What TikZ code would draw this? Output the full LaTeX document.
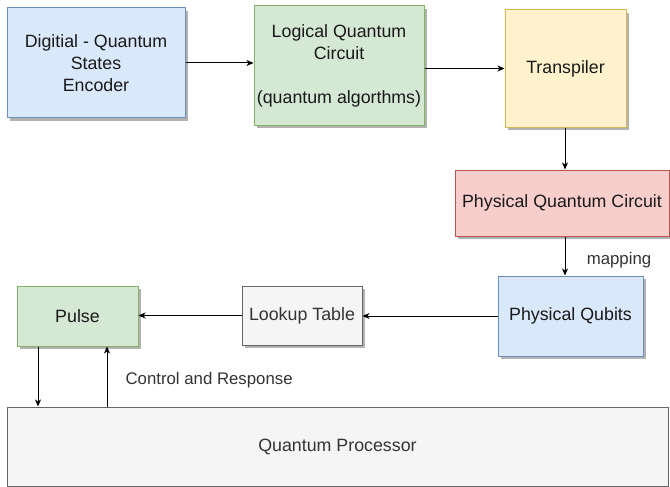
\documentclass[tikz,border=0pt]{standalone}
\usepackage{fontspec}
\setmainfont{Liberation Sans}
\usetikzlibrary{arrows.meta,shadows}
\definecolor{bluefill}{HTML}{DAE8FC}\definecolor{bluestroke}{HTML}{6C8EBF}
\definecolor{greenfill}{HTML}{D5E8D4}\definecolor{greenstroke}{HTML}{82B366}
\definecolor{yellowfill}{HTML}{FFF2CC}\definecolor{yellowstroke}{HTML}{D6B656}
\definecolor{redfill}{HTML}{F8CECC}\definecolor{redstroke}{HTML}{B85450}
\definecolor{grayfill}{HTML}{F5F5F5}\definecolor{graystroke}{HTML}{666666}
\definecolor{graytext}{HTML}{333333}
\begin{document}
\begin{tikzpicture}[x=1pt,y=-1pt,
  box/.style={draw, line width=1pt, inner sep=0pt, align=center,
    font=\fontsize{17.8}{22}\selectfont, text=black!90,
    drop shadow={shadow xshift=3pt, shadow yshift=-3pt, fill=black!30, opacity=1}},
  bluebox/.style={box, fill=bluefill, draw=bluestroke},
  greenbox/.style={box, fill=greenfill, draw=greenstroke},
  yellowbox/.style={box, fill=yellowfill, draw=yellowstroke},
  redbox/.style={box, fill=redfill, draw=redstroke},
  graybox/.style={box, fill=grayfill, draw=graystroke, text=graytext},
  conn/.style={line width=1pt, -{Stealth[length=7pt,width=6pt,inset=2pt]}},
  lbl/.style={font=\fontsize{16.8}{20}\selectfont, text=graytext}]
\useasboundingbox (0,0) rectangle (670,487);

\node[bluebox, minimum width=178pt, minimum height=110pt] (enc) at (96,63)
  {Digitial - Quantum\\States\\Encoder};
\node[greenbox, minimum width=170pt, minimum height=119pt] (log) at (339,65.5)
  {Logical Quantum\\Circuit\\[22pt](quantum algorthms)};
\node[yellowbox, minimum width=121pt, minimum height=117pt] (trans) at (565.5,68.5)
  {Transpiler};
\node[redbox, minimum width=214pt, minimum height=66pt] (pqc) at (562,203)
  {Physical Quantum Circuit};
\node[bluebox, minimum width=145pt, minimum height=80pt] (qub) at (570.5,316)
  {Physical Qubits};
\node[graybox, minimum width=120pt, minimum height=59pt] (lut) at (302,315.5)
  {Lookup Table};
\node[greenbox, minimum width=121pt, minimum height=60pt] (pulse) at (77.5,316)
  {Pulse};
\node[draw=graystroke, fill=grayfill, line width=1pt, text=graytext,
  font=\fontsize{17.8}{22}\selectfont, inner sep=0pt,
  minimum width=661pt, minimum height=79pt] (proc) at (337.5,446.5)
  {Quantum Processor};

\draw[conn] (enc.east) -- (enc.east -| log.west);
\draw[conn] (trans.west -| log.east) -- (trans.west);
\coordinate (t1) at (565,0);
\draw[conn] (trans.south -| t1) -- (pqc.north -| t1);
\draw[conn] (pqc.south -| t1) -- (qub.north -| t1);
\draw[conn] (qub.west) -- (qub.west -| lut.east);
\draw[conn] (lut.west) -- (lut.west -| pulse.east);
\coordinate (p1) at (38,0);
\coordinate (p2) at (107,0);
\draw[conn] (pulse.south -| p1) -- (proc.north -| p1);
\draw[conn] (proc.north -| p2) -- (pulse.south -| p2);

\node[lbl] (map) at (619,260) {mapping};
\node[lbl, anchor=west] (cr) at (122,380) {Control and Response};
\end{tikzpicture}
\end{document}
